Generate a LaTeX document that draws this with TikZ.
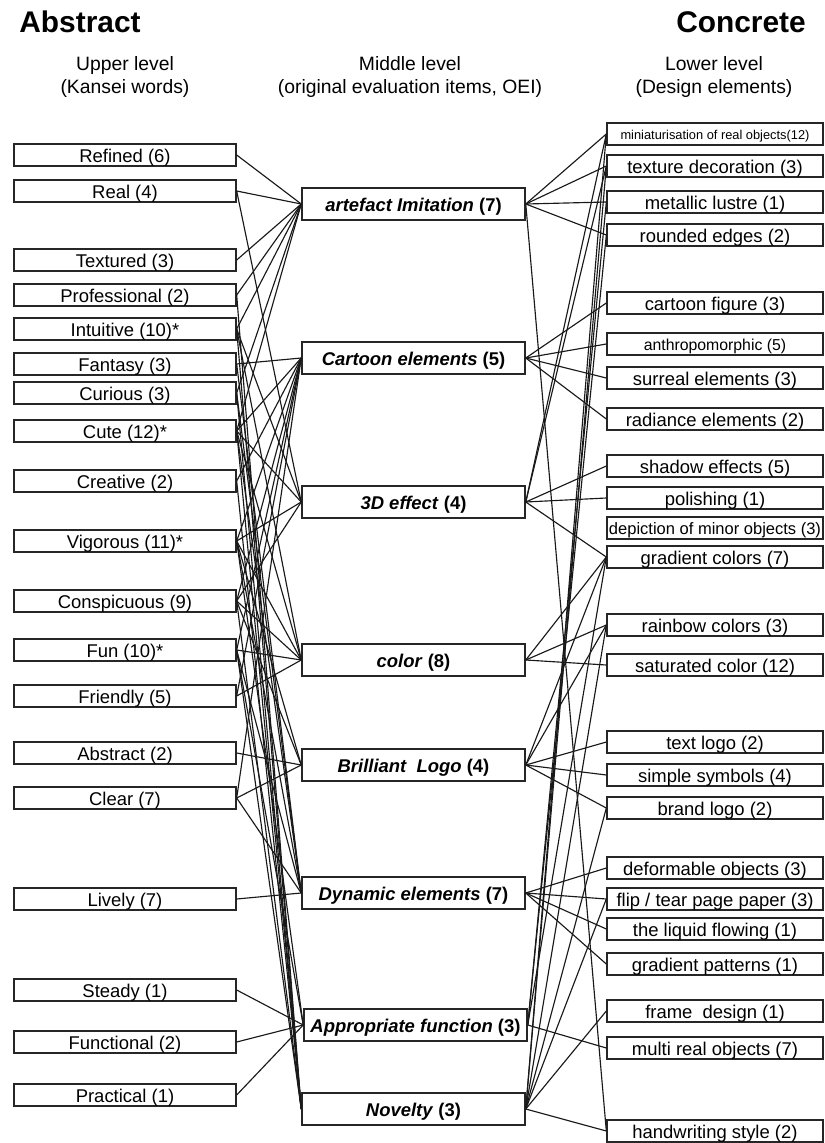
\documentclass[tikz,border=0pt]{standalone}
\usepackage{fontspec}
\setmainfont{Liberation Sans}
\tikzset{
  kansei/.style={draw=black!85, line width=0.8pt, inner sep=0pt, minimum width=4.44cm, minimum height=0.44cm, text height=8.4pt, text depth=0pt, font=\fontsize{10.5}{12}\selectfont},
  oei/.style={draw=black!85, line width=0.9pt, inner sep=0pt, minimum width=4.46cm, minimum height=0.64cm, text height=8.4pt, text depth=0pt, font=\fontsize{10.5}{12}\selectfont\bfseries},
  design/.style={draw=black!85, line width=0.8pt, inner sep=0pt, minimum width=4.32cm, minimum height=0.44cm, text height=8.4pt, text depth=0pt, font=\fontsize{10.5}{12}\selectfont},
  heading/.style={font=\fontsize{17}{20}\selectfont\bfseries},
  level/.style={align=center, font=\fontsize{11}{13.2}\selectfont},
  link/.style={line width=0.65pt, black!90}
}
\begin{document}
\begin{tikzpicture}[x=0.02cm,y=-0.02cm]
    \useasboundingbox (0,0) rectangle (825,1143);
    % Headings
    \node[heading] (habstract) at (80,22) {Abstract};
    \node[heading] (hconcrete) at (741,22) {Concrete};
    \node[level] (hupper) at (125,77) {Upper level\\(Kansei words)};
    \node[level] (hmiddle) at (410,77) {Middle level\\(original evaluation items, OEI)};
    \node[level] (hlower) at (714,77) {Lower level\\(Design elements)};
    % Upper level
    \node[kansei] (refined) at (125,155) {Refined (6)};
    \node[kansei] (real) at (125,191) {Real (4)};
    \node[kansei] (textured) at (125,260) {Textured (3)};
    \node[kansei] (professional) at (125,295) {Professional (2)};
    \node[kansei] (intuitive) at (125,329) {Intuitive (10)*};
    \node[kansei] (fantasy) at (125,364) {Fantasy (3)};
    \node[kansei] (curious) at (125,393) {Curious (3)};
    \node[kansei] (cute) at (125,431) {Cute (12)*};
    \node[kansei] (creative) at (125,481) {Creative (2)};
    \node[kansei] (vigorous) at (125,541) {Vigorous (11)*};
    \node[kansei] (conspicuous) at (125,601) {Conspicuous (9)};
    \node[kansei] (fun) at (125,650) {Fun (10)*};
    \node[kansei] (friendly) at (125,696) {Friendly (5)};
    \node[kansei] (abstract) at (125,753) {Abstract (2)};
    \node[kansei] (clear) at (125,798) {Clear (7)};
    \node[kansei] (lively) at (125,899) {Lively (7)};
    \node[kansei] (steady) at (125,990) {Steady (1)};
    \node[kansei] (functional) at (125,1042) {Functional (2)};
    \node[kansei] (practical) at (125,1095) {Practical (1)};
    % Middle level
    \node[oei] (imitation) at (413.5,204) {\textit{artefact Imitation} (7)};
    \node[oei] (cartoon) at (413.5,358) {\textit{Cartoon elements} (5)};
    \node[oei] (effect3d) at (413.5,502) {\textit{3D effect} (4)};
    \node[oei] (colour) at (413.5,660) {\textit{color} (8)};
    \node[oei] (logo) at (413.5,765) {\textit{Brilliant\ \ Logo} (4)};
    \node[oei] (dynamic) at (413.5,893) {\textit{Dynamic elements} (7)};
    \node[oei] (function) at (415.5,1025) {\textit{Appropriate function} (3)};
    \node[oei] (novelty) at (413.5,1109) {\textit{Novelty} (3)};
    % Lower level
    \node[design, font=\fontsize{7.3}{9}\selectfont, text height=6pt] (miniature) at (715,134) {miniaturisation of real objects(12)};
    \node[design] (texture) at (715,166) {texture decoration (3)};
    \node[design] (metallic) at (715,202) {metallic lustre (1)};
    \node[design] (rounded) at (715,235) {rounded edges (2)};
    \node[design] (figure) at (715,303) {cartoon figure (3)};
    \node[design, font=\fontsize{9}{10}\selectfont, text height=7.2pt] (anthropo) at (715,344) {anthropomorphic (5)};
    \node[design] (surreal) at (715,378) {surreal elements (3)};
    \node[design] (radiance) at (715,419) {radiance elements (2)};
    \node[design] (shadow) at (715,466) {shadow effects (5)};
    \node[design] (polishing) at (715,498) {polishing (1)};
    \node[design, font=\fontsize{9.4}{11}\selectfont, text height=7.5pt] (minor) at (715,528) {depiction of minor objects (3)};
    \node[design] (gradcolor) at (715,557) {gradient colors (7)};
    \node[design] (rainbow) at (715,625) {rainbow colors (3)};
    \node[design] (saturated) at (715,665) {saturated color (12)};
    \node[design] (textlogo) at (715,742) {text logo (2)};
    \node[design] (symbols) at (715,775) {simple symbols (4)};
    \node[design] (brandlogo) at (715,808) {brand logo (2)};
    \node[design] (deformable) at (715,868) {deformable objects (3)};
    \node[design] (fliptear) at (715,899) {flip / tear page paper (3)};
    \node[design] (liquid) at (715,929) {the liquid flowing (1)};
    \node[design] (gradpattern) at (715,964) {gradient patterns (1)};
    \node[design] (frame) at (715,1011) {frame\ \ design (1)};
    \node[design] (multireal) at (715,1048) {multi real objects (7)};
    \node[design] (handwriting) at (715,1131) {handwriting style (2)};
    % Kansei words to OEI
    \foreach \a/\b in {refined/imitation, real/imitation, real/effect3d, textured/imitation,
        professional/imitation, professional/novelty, intuitive/imitation, intuitive/effect3d,
        intuitive/colour, intuitive/novelty, fantasy/cartoon, fantasy/dynamic, curious/imitation,
        curious/dynamic, curious/novelty, cute/imitation, cute/cartoon, cute/effect3d, cute/colour,
        cute/dynamic, cute/novelty, creative/cartoon, creative/novelty, vigorous/cartoon,
        vigorous/effect3d, vigorous/colour, vigorous/logo, vigorous/dynamic, vigorous/function,
        conspicuous/effect3d, conspicuous/cartoon, conspicuous/colour, conspicuous/logo,
        conspicuous/novelty, fun/colour, fun/cartoon, fun/dynamic, fun/novelty, fun/function,
        friendly/colour, friendly/cartoon, abstract/logo, clear/logo, clear/cartoon,
        clear/dynamic, lively/dynamic, steady/function, functional/function, practical/function}
      \draw[link] (\a.east) -- (\b.west);
    % OEI to design elements
    \foreach \a/\b in {imitation/miniature, imitation/texture, imitation/metallic,
        imitation/rounded, imitation/handwriting, cartoon/figure, cartoon/anthropo,
        cartoon/surreal, cartoon/radiance, effect3d/miniature, effect3d/texture,
        effect3d/shadow, effect3d/polishing, effect3d/gradcolor, colour/gradcolor,
        colour/rainbow, colour/saturated, logo/textlogo, logo/symbols, logo/brandlogo,
        logo/gradcolor, logo/rainbow, dynamic/deformable, dynamic/fliptear, dynamic/liquid,
        dynamic/gradpattern, function/metallic, function/rounded, function/gradcolor,
        function/multireal, novelty/miniature, novelty/texture, novelty/rainbow,
        novelty/brandlogo, novelty/fliptear, novelty/frame, novelty/handwriting}
      \draw[link] (\a.east) -- (\b.west);
\end{tikzpicture}
\end{document}
